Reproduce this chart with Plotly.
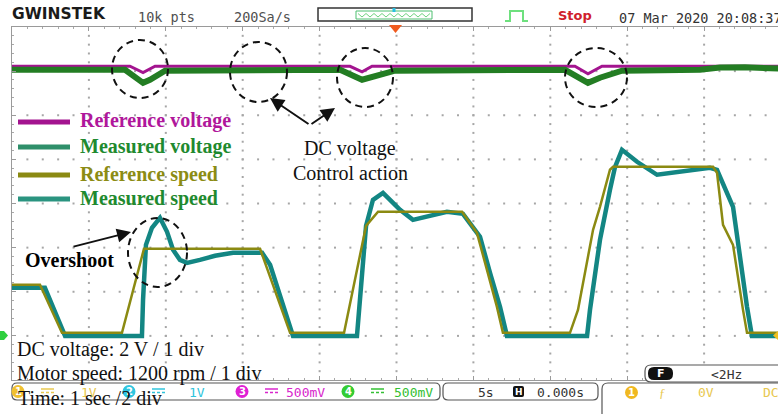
import plotly.graph_objects as go

W, H = 778, 414

# ---------------- data (time in s, 5 s/div, screen centre = 0 s) ----------------
ref_speed_t = [-25.0, -23.18, -21.75, -17.85, -16.42, -8.87, -6.92, -3.41, -1.98, -1.20, 4.26, 5.23,
               6.53, 6.92, 11.28, 11.80, 12.78, 13.23, 13.88, 14.08, 20.58, 20.84, 21.23, 21.88,
               22.53, 22.79, 25.0]
ref_speed_rpm = [1388, 1388, 82, 82, 2367, 2367, 82, 82, 2993, 3374, 3374, 2803,
                 789, 82, 82, 707, 2884, 3510, 4517, 4598, 4598, 4435, 3020, 2476,
                 707, 82, 82]

meas_speed_t = [-25.0, -22.86, -21.55, -16.55, -16.48, -16.29, -15.90, -15.38, -14.92, -14.53,
                -14.08, -13.62, -12.78, -11.80, -10.63, -8.74, -8.22, -6.73, -2.57, -2.37,
                -1.98, -1.53, -0.88, -0.29, 0.23, 1.07, 2.18, 3.28, 4.32, 5.43,
                6.08, 6.73, 7.18, 12.39, 12.58, 13.23, 13.88, 14.21, 14.66, 15.18,
                15.64, 16.94, 18.43, 20.38, 20.84, 21.36, 21.88, 22.79, 23.11, 25.0]
meas_speed_rpm = [1306, 1306, 0, 0, 980, 2476, 2939, 3211, 2830, 2340,
                  2068, 1986, 2068, 2177, 2258, 2258, 1932, 0, 0, 980,
                  2993, 3701, 3891, 3646, 3428, 3156, 3265, 3374, 3320, 2694,
                  1714, 789, 0, 0, 707, 2612, 3973, 4598, 5061, 4898,
                  4735, 4381, 4462, 4571, 4517, 3973, 3510, 789, 0, 0]

ref_volt_t = [-25.0, -17.33, -16.48, -15.70, -3.02, -2.24, -1.59, 11.60, 12.45, 13.36, 25.0]
ref_volt_v = [12.22, 12.22, 11.93, 12.22, 12.22, 11.97, 12.22, 12.22, 11.88, 12.22, 12.22]

meas_volt_t = [-25.0, -17.65, -16.48, -16.03, -15.05, -3.67, -2.24, -1.40, -0.10, 10.96,
               12.45, 13.23, 14.66, 19.73, 21.03, 22.66, 25.0]
meas_volt_v = [12.06, 12.06, 11.47, 11.61, 12.02, 12.06, 11.61, 11.79, 12.02, 12.06,
               11.47, 11.70, 12.02, 12.06, 12.16, 12.18, 12.11]

# scope scales: speed 1200 rpm/div, voltage 2 V/div, both referenced to the -3 div ground marker
RPM_PER_DIV, V_PER_DIV, GND_DIV = 1200.0, 2.0, -3.0
S_PER_DIV = 5.0
def rpm2div(v): return [GND_DIV + x / RPM_PER_DIV for x in v]
def volt2div(v): return [GND_DIV + x / V_PER_DIV for x in v]

C_MAG = "#a3148f"
C_GRN = "#237d23"
C_OLV = "#8b8a12"
C_TEAL = "#138683"

fig = go.Figure()

# graticule dots (5 sub-divisions per division along each major grid line)
gx, gy = [], []
for k in range(1, 10):
    for j in range(1, 40):
        gx.append(-25 + k * S_PER_DIV); gy.append(-4 + j * 0.2)
for k in range(1, 8):
    for j in range(1, 50):
        gx.append(-25 + j * S_PER_DIV / 5); gy.append(-4 + k)
fig.add_trace(go.Scatter(x=gx, y=gy, mode="markers", hoverinfo="skip",
                         marker=dict(symbol="square", size=2, color="#a6a6a6", line=dict(width=0))))

fig.add_trace(go.Scatter(x=ref_volt_t, y=volt2div(ref_volt_v), mode="lines",
                         line=dict(color=C_MAG, width=3)))
fig.add_trace(go.Scatter(x=meas_volt_t, y=volt2div(meas_volt_v), mode="lines",
                         line=dict(color=C_GRN, width=6)))
fig.add_trace(go.Scatter(x=meas_speed_t, y=rpm2div(meas_speed_rpm), mode="lines",
                         line=dict(color=C_TEAL, width=4.5)))
fig.add_trace(go.Scatter(x=ref_speed_t, y=rpm2div(ref_speed_rpm), mode="lines",
                         line=dict(color=C_OLV, width=2.5)))

fig.update_layout(width=W, height=H, margin=dict(l=0, r=0, t=0, b=0),
                  paper_bgcolor="white", plot_bgcolor="white", showlegend=False)
fig.update_xaxes(domain=[12 / W, 1], range=[-25, -25 + 766 / 15.38], dtick=5, tick0=0,
                 showgrid=False, showline=True, linecolor="#9a9a9a", linewidth=1, mirror="ticks",
                 ticks="inside", ticklen=4, tickcolor="#9a9a9a",
                 minor=dict(dtick=1, ticks="inside", ticklen=2, tickcolor="#a8a8a8", showgrid=False),
                 showticklabels=False, zeroline=False)
fig.update_yaxes(domain=[1 - 380 / H, 1 - 27 / H], range=[-4, 4], dtick=1, tick0=0,
                 showgrid=False, showline=True, linecolor="#9a9a9a", linewidth=1,
                 ticks="inside", ticklen=4, tickcolor="#9a9a9a",
                 minor=dict(dtick=0.2, ticks="inside", ticklen=2, tickcolor="#a8a8a8", showgrid=False),
                 showticklabels=False, zeroline=False)

SERIF = "Liberation Serif, Times New Roman, serif"
MONO = "DejaVu Sans Mono, monospace"
SANS = "DejaVu Sans, sans-serif"

def px(x): return x / W
def py(y): return 1 - y / H
def pt(x, y): return f"{px(x):.5f},{py(y):.5f}"

def text(t, x, y, size, color="black", family=SERIF, xanchor="left", bold=False):
    fig.add_annotation(x=px(x), y=py(y), xref="paper", yref="paper",
                       text=f"<b>{t}</b>" if bold else t, showarrow=False,
                       xanchor=xanchor, yanchor="middle", borderpad=0,
                       font=dict(family=family, size=size, color=color))

def path(d, color, width=1.2, fill=None, dash=None):
    fig.add_shape(type="path", path=d, xref="paper", yref="paper",
                  line=dict(color=color, width=width, dash=dash) if width else dict(width=0),
                  fillcolor=fill, layer="above")

def line(x0, y0, x1, y1, color, width=1.5, dash=None):
    fig.add_shape(type="line", x0=px(x0), y0=py(y0), x1=px(x1), y1=py(y1), xref="paper",
                  yref="paper", line=dict(color=color, width=width, dash=dash), layer="above")

def rrect(x0, y0, x1, y1, r, color, width=1.2, fill=None):
    d = (f"M{pt(x0 + r, y0)} L{pt(x1 - r, y0)} Q{pt(x1, y0)} {pt(x1, y0 + r)} "
         f"L{pt(x1, y1 - r)} Q{pt(x1, y1)} {pt(x1 - r, y1)} L{pt(x0 + r, y1)} "
         f"Q{pt(x0, y1)} {pt(x0, y1 - r)} L{pt(x0, y0 + r)} Q{pt(x0, y0)} {pt(x0 + r, y0)} Z")
    path(d, color, width, fill)

def circle(x0, y0, x1, y1, color, width=2, dash=None, fill=None):
    fig.add_shape(type="circle", x0=px(x0), y0=py(y1), x1=px(x1), y1=py(y0), xref="paper",
                  yref="paper", line=dict(color=color, width=width, dash=dash),
                  fillcolor=fill, layer="above")

# ---------------- header ----------------
text("GWINSTEK", 11, 14, 15.5, "#1a1a1a", SANS, bold=True)
text("10k pts", 137, 17, 13.5, "#505050", MONO)
text("200Sa/s", 233, 17, 13.5, "#505050", MONO)
fig.add_shape(type="rect", x0=px(318), y0=py(21), x1=px(472), y1=py(8), xref="paper",
              yref="paper", line=dict(color="#333333", width=1.5), layer="above")
fig.add_shape(type="rect", x0=px(356), y0=py(19), x1=px(432), y1=py(11), xref="paper",
              yref="paper", line=dict(color="#4fbf70", width=1), layer="above")
wave = "M" + " L".join(pt(358 + i * 4, 15 + (2 if i % 2 else -1.5)) for i in range(19))
path(wave, "#6fd37f", 1)
line(394, 8, 394, 12, "#28c0e0", 3)
path(f"M{pt(505, 21)} L{pt(510, 21)} L{pt(510, 11)} L{pt(523, 11)} L{pt(523, 21)} L{pt(528, 21)}",
     "#6ee07e", 2)
text("Stop", 557, 15, 13, "#d0202c", SANS, bold=True)
text("07 Mar 2020 20:08:37", 618, 18, 13.5, "#333333", MONO)
path(f"M{pt(389, 25)} L{pt(402, 25)} L{pt(395.5, 33)} Z", "#f05a1e", 0, "#f05a1e")

# ---------------- channel markers ----------------
path(f"M{pt(0, 331)} L{pt(4, 331)} L{pt(8, 335.5)} L{pt(4, 340)} L{pt(0, 340)} Z", "#2fcf3f", 0, "#2fcf3f")
path(f"M{pt(773, 335.5)} L{pt(778, 331)} L{pt(778, 340)} Z", "#f0c020", 0, "#f0c020")

# ---------------- dashed circles ----------------
for (a, b, c, d) in [(112, 40, 168, 98), (230, 42, 287, 102), (337, 48, 393, 107),
                     (565, 48, 627, 107), (128, 218, 187, 287)]:
    circle(a, b, c, d, "#111111", 2, "7px,5px")

# ---------------- arrows ----------------
for (hx, hy, tx, ty) in [(270, 98, 310, 125), (335, 108, 310, 125), (131, 232, 72, 247)]:
    fig.add_annotation(x=px(hx), y=py(hy), xref="paper", yref="paper", text="",
                       showarrow=True, ax=tx - hx, ay=ty - hy, arrowhead=2, arrowsize=1.4,
                       arrowwidth=2, arrowcolor="#111111", standoff=0)

# ---------------- legend ----------------
legend = [("Reference voltage", C_MAG, "#b0179b", 122),
          ("Measured voltage", "#2f8f6a", "#1f8a2f", 147),
          ("Reference speed", C_OLV, "#8c8c14", 175),
          ("Measured speed", "#2a9480", "#1f8a2f", 199)]
for lab, lc, tc, y in legend:
    line(18, y, 70, y, lc, 5)
    text(lab, 79, y - 1, 20, tc, SERIF, bold=True)

text("Overshoot", 24, 260, 20, "black", SERIF, bold=True)
text("DC voltage", 350, 148, 20, "#111111", SERIF, xanchor="center")
text("Control action", 350, 173, 20, "#111111", SERIF, xanchor="center")

# ---------------- status bar ----------------
rrect(12, 383, 440, 400, 5, "#555555", 1.2, "white")
rrect(443, 383, 598, 400, 5, "#555555", 1.2, "white")
path(f"M{pt(602, 414)} L{pt(602, 389)} Q{pt(602, 383)} {pt(608, 383)} L{pt(790, 383)}", "#555555", 1.2)
rrect(645, 365, 800, 382, 6, "#555555", 1.2, "white")
rrect(648, 367, 673, 380, 6, "#111111", 0, "#111111")
text("F", 660.5, 373.5, 11, "white", SANS, "center", True)
text("<2Hz", 710, 374, 13, "#333333", MONO)

chans = [(18, "1", "#f0c030", "#e8c850", "1V", 80),
         (129, "2", "#2fc6e0", "#30c4dc", "1V", 188),
         (242, "3", "#e020d4", "#d826cc", "500mV", 285),
         (348, "4", "#33cc33", "#33c033", "500mV", 393)]
for cx, num, cc, tc, val, vx in chans:
    circle(cx - 6.5, 385, cx + 6.5, 398, cc, 0, None, cc)
    text(num, cx, 391.5, 10, "white", SANS, "center", True)
    line(cx + 23, 389, cx + 36, 389, tc, 1.5)
    line(cx + 23, 392.5, cx + 36, 392.5, tc, 1.5, "3px,2px")
    text(val, vx, 392, 13, tc, MONO)

text("5s", 477, 392, 13, "#333333", MONO)
rrect(513, 386, 524, 397, 2, "#111111", 0, "#111111")
text("H", 518.5, 391.5, 9, "white", SANS, "center", True)
text("0.000s", 536, 392, 13, "#333333", MONO)
circle(625, 386, 638, 399, "#f0b820", 0, None, "#f0b820")
text("1", 631.5, 392.5, 10, "white", SANS, "center", True)
text("ƒ", 662, 392, 13, "#e8c850", SERIF, "center")
text("0V", 697, 392, 13, "#e8c850", MONO)
text("DC", 762, 392, 13, "#e8c850", MONO)

# ---------------- scale notes ----------------
text("DC voltage: 2 V / 1 div", 16, 349, 20, "#111111", SERIF)
text("Motor speed: 1200 rpm / 1 div", 16, 373, 20, "#111111", SERIF)
text("Time: 1 sec /2 div", 17, 398, 20, "#111111", SERIF)

fig.write_html("out.html")
